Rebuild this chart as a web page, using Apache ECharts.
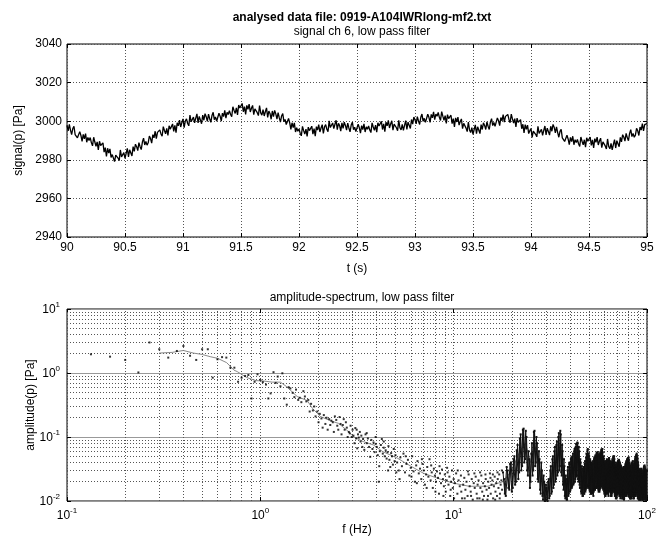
<!DOCTYPE html>
<html><head><meta charset="utf-8">
<script src="https://cdn.jsdelivr.net/npm/echarts@6/dist/echarts.min.js"></script>
<style>html,body{margin:0;padding:0;background:#fff}#c{width:665px;height:539px}</style>
</head><body><div id="c"></div><script>
// ---------- data ----------
const mainTitle = 'analysed data file: 0919-A104IWRlong-mf2.txt';
const topSubtitle = 'signal ch 6, low pass filter';
const bottomSubtitle = 'amplitude-spectrum, low pass filter';

// time signal, sampled from t0 every dt seconds
const t0 = 90, dt = 0.01;
const signal = [
2997.8,2995.0,2998.3,2995.4,2993.1,2996.2,2997.4,2993.1,2994.1,2991.4,
2991.8,2994.6,2992.6,2989.5,2993.2,2990.9,2993.6,2989.1,2991.6,2990.0,
2991.5,2988.9,2987.2,2991.7,2989.2,2987.0,2989.3,2985.1,2989.6,2987.4,
2986.5,2988.8,2984.0,2986.3,2981.7,2986.0,2983.5,2985.7,2981.2,2982.7,
2983.7,2979.1,2982.4,2983.4,2980.9,2979.6,2985.1,2981.5,2980.6,2983.7,
2980.7,2983.4,2985.9,2981.5,2985.2,2984.5,2982.0,2986.8,2984.4,2988.1,
2986.8,2984.8,2988.9,2986.8,2985.3,2989.2,2991.2,2987.7,2989.5,2987.6,
2988.8,2992.3,2991.0,2988.6,2993.0,2991.4,2994.8,2991.0,2994.2,2993.3,
2995.5,2993.4,2992.2,2997.2,2995.2,2993.5,2996.3,2992.6,2997.6,2995.9,
2995.5,2998.6,2994.7,2997.8,2994.1,2999.2,2997.6,3000.6,2997.0,2999.3,
3001.2,2996.7,3000.1,3001.2,2998.8,2997.6,3003.2,2999.7,2998.9,3002.1,
2999.2,3001.6,3003.8,2999.1,3002.5,3001.5,2998.7,3003.2,3000.5,3003.9,
3002.3,2999.9,3003.7,3001.3,2999.4,3003.0,3004.6,3000.8,3002.2,3000.0,
3000.8,3004.1,3002.6,3000.0,3004.2,3002.4,3005.6,3001.6,3004.6,3003.5,
3005.5,3003.5,3002.4,3007.5,3005.6,3004.0,3006.9,3003.3,3008.4,3006.8,
3006.5,3009.2,3004.9,3007.6,3003.5,3008.2,3006.2,3008.8,3004.8,3006.7,
3008.2,3003.4,3006.4,3007.2,3004.4,3002.9,3008.1,3004.3,3003.1,3006.0,
3002.7,3004.9,3006.9,3002.0,3005.2,3004.0,3001.0,3005.3,3002.4,3005.6,
3003.8,3001.1,3004.5,3001.7,2999.5,3002.7,3004.0,2999.8,3000.9,2998.3,
2998.8,3001.4,2999.1,2995.8,2999.2,2996.7,2999.1,2994.4,2996.6,2994.8,
2996.0,2993.8,2992.4,2997.3,2995.1,2993.3,2995.9,2992.1,2996.9,2995.1,
2994.5,2997.4,2993.3,2996.2,2992.3,2997.2,2995.4,2998.2,2994.4,2996.5,
2998.2,2993.7,2997.1,2998.2,2995.8,2994.6,3000.2,2996.7,2995.9,2999.1,
2996.2,2998.4,3000.5,2995.6,2998.9,2997.7,2994.8,2999.1,2996.3,2999.5,
2997.8,2995.4,2999.0,2996.5,2994.5,2998.0,2999.5,2995.6,2996.9,2994.6,
2995.3,2998.4,2996.6,2993.8,2997.7,2995.7,2998.6,2994.4,2997.1,2995.8,
2997.5,2995.4,2994.1,2999.1,2997.0,2995.3,2998.0,2994.3,2999.2,2997.5,
2997.0,2999.9,2995.7,2998.6,2994.6,2999.5,2997.6,3000.4,2996.5,2998.6,
3000.2,2995.4,2998.5,2999.3,2996.6,2995.1,3000.4,2996.6,2995.5,2998.4,
2995.2,2997.8,3000.3,2995.8,2999.5,2998.7,2996.2,3000.9,2998.5,3002.1,
3000.8,2998.6,3002.4,3000.1,2998.3,3002.0,3003.7,2999.9,3001.5,2999.4,
3000.3,3003.6,3002.0,2999.4,3003.5,3001.7,3004.8,3000.8,3003.7,3002.6,
3004.5,3002.0,3000.4,3005.0,3002.6,3000.5,3002.9,2998.8,3003.4,3001.3,
3000.5,3003.1,2998.7,3001.3,2997.1,3001.7,2999.6,3002.1,2998.0,2999.8,
3001.2,2996.1,2998.9,2999.4,2996.4,2994.6,2999.6,2995.5,2994.1,2996.7,
2993.2,2995.7,2998.1,2993.5,2997.1,2996.2,2993.6,2998.2,2995.7,2999.2,
2997.8,2995.7,2999.6,2997.4,2995.7,2999.5,3001.3,2997.7,2999.3,2997.3,
2998.3,3001.7,3000.2,2997.7,3001.9,3000.2,3003.4,2999.5,3002.5,3001.5,
3003.5,3000.9,2999.2,3003.7,3001.2,2999.0,3001.3,2997.1,3001.6,2999.4,
2998.5,3000.8,2996.1,2998.4,2993.9,2998.2,2995.8,2998.0,2993.6,2995.1,
2996.2,2991.6,2994.8,2995.8,2993.2,2991.9,2997.3,2993.7,2992.7,2995.8,
2992.7,2995.2,2997.5,2992.9,2996.4,2995.5,2992.8,2997.4,2994.8,2998.3,
2996.8,2993.9,2997.1,2994.1,2991.7,2994.7,2995.8,2991.4,2992.3,2989.5,
2989.8,2992.7,2990.8,2987.8,2991.6,2989.4,2992.2,2987.8,2990.4,2988.9,
2990.5,2988.3,2986.9,2991.8,2989.6,2987.8,2990.4,2986.6,2991.4,2989.6,
2989.0,2991.8,2987.5,2990.3,2986.2,2991.0,2989.0,2991.7,2987.7,2989.7,
2991.2,2986.3,2989.3,2990.0,2987.2,2985.6,2990.8,2986.9,2985.7,2988.5,
2985.2,2987.9,2990.5,2986.1,2989.9,2989.2,2986.8,2991.6,2989.3,2993.0,
2991.8,2989.7,2993.7,2991.5,2989.9,2993.7,2995.6,2992.0,2993.7,2991.7,
2992.8,2996.3,2995.0,2992.6,2997.0,2995.4,2998.8,2995.0,2998.2,2997.3,
2998.8
];

// spectrum: individually visible points [f (Hz), amplitude (Pa)]
const spectrumLowPoints = [
[0.133,1.96],[0.167,1.80],[0.2,1.60],[0.234,1.02],[0.267,3.0],[0.3,2.35],[0.334,1.74],[0.37,2.21],
[0.4,2.64],[0.433,1.86],[0.466,1.60],[0.5,2.35],[0.535,2.35],[0.567,0.845],[0.6,1.64],[0.634,1.77],
[0.667,1.74],[0.7,1.21],[0.734,1.21],[0.767,0.73],[0.8,0.845],[0.834,0.9],[0.867,0.93],[0.9,0.40],
[0.934,0.73],[0.967,0.955],[1.0,0.78],[1.03,0.72],[1.07,0.66],[1.1,0.40],[1.13,0.48],[1.17,1.03],
[1.2,0.7],[1.23,0.88],[1.27,0.62],[1.3,0.99],[1.33,0.40],[1.37,0.32],[1.4,0.6],[1.43,0.575],
[1.47,0.49],[1.5,0.42],[1.53,0.55],[1.57,0.38],[1.6,0.41],[1.63,0.35],[1.67,0.52],[1.7,0.43],
[1.73,0.36],[1.77,0.38],[1.8,0.25],[1.83,0.33],[1.87,0.26],[1.9,0.3],[1.93,0.21],[1.97,0.25],
[2.0,0.17],[2.03,0.23],[2.07,0.195],[2.1,0.14],[2.13,0.22],[2.17,0.16],[2.2,0.2],[2.23,0.13],
[2.27,0.19],[2.3,0.154],[2.33,0.18],[2.37,0.17],[2.4,0.12],[2.43,0.21],[2.47,0.185],[2.5,0.15],
[2.53,0.13],[2.57,0.205],[2.6,0.16],[2.63,0.11],[2.67,0.154],[2.7,0.19],[2.73,0.13],[2.77,0.17],
[2.8,0.14],[2.83,0.1],[2.87,0.12],[2.9,0.114],[2.93,0.15],[2.97,0.1],[3.0,0.13]
];
const spectrumMidPoints = [
[3.03,0.105],[3.07,0.08],[3.1,0.138],[3.13,0.095],[3.17,0.0665],[3.2,0.11],[3.23,0.098],[3.27,0.12],
[3.3,0.085],[3.33,0.105],[3.37,0.07],[3.4,0.093],[3.45,0.063],[3.5,0.11],[3.55,0.08],[3.6,0.095],
[3.65,0.07],[3.7,0.049],[3.75,0.09],[3.8,0.065],[3.85,0.082],[3.9,0.058],[3.95,0.078],[4.0,0.07],
[4.05,0.052],[4.1,0.02],[4.15,0.06],[4.2,0.075],[4.25,0.093],[4.3,0.055],[4.35,0.068],[4.4,0.05],
[4.45,0.062],[4.5,0.046],[4.55,0.058],[4.6,0.072],[4.65,0.044],[4.7,0.034],[4.75,0.056],[4.8,0.05],
[4.85,0.037],[4.9,0.065],[4.95,0.042],[5.0,0.052],
[5.1,0.04],[5.2,0.03],[5.3,0.048],[5.4,0.035],[5.5,0.055],[5.6,0.028],[5.7,0.038],[5.8,0.044],
[5.9,0.025],[6.0,0.033],[6.1,0.05],[6.2,0.029],[6.3,0.02],[6.4,0.036],[6.5,0.042],[6.6,0.027],
[6.7,0.032],[6.8,0.022],[6.9,0.038],[7.0,0.03],[7.1,0.018],[7.2,0.026],[7.3,0.034],[7.4,0.024],
[7.5,0.045],[7.6,0.021],[7.7,0.028],[7.8,0.016],[7.9,0.032],[8.0,0.025],[8.1,0.02],[8.2,0.029],
[8.3,0.023],[8.4,0.013],[8.5,0.027],[8.6,0.019],[8.7,0.031],[8.8,0.022],[8.9,0.017],[9.0,0.026],
[9.1,0.014],[9.2,0.021],[9.3,0.028],[9.4,0.018],[9.5,0.024],[9.6,0.012],[9.7,0.02],[9.8,0.03],
[9.9,0.016],[10.0,0.022],[10.15,0.019],[10.3,0.027],[10.45,0.013],[10.6,0.021],[10.75,0.017],[10.9,0.025],
[11.05,0.011],[11.2,0.018],[11.35,0.023],[11.5,0.015],[11.65,0.02],[11.8,0.012],[11.95,0.026],[12.1,0.017],
[12.25,0.014],[12.4,0.022],[12.55,0.0105],[12.7,0.019],[12.85,0.016],[13.0,0.024],[13.15,0.013],[13.3,0.018],
[13.45,0.021],[13.6,0.011],[13.75,0.016],[13.9,0.025],[14.05,0.014],[14.2,0.019],[14.35,0.012],[14.5,0.017],
[14.65,0.022],[14.8,0.015],[14.95,0.0105],[15.1,0.02],[15.25,0.016],[15.4,0.027],[15.55,0.013],[15.7,0.018],
[15.85,0.021],[16.0,0.011],[16.15,0.017],[16.3,0.024],[16.45,0.014],[16.6,0.019],[16.75,0.012],[16.9,0.022],
[17.05,0.016],[17.2,0.026],[17.35,0.013],[17.5,0.018],[17.65,0.021],[17.8,0.015],
[5.25,0.022],[5.65,0.05],[6.05,0.024],[6.45,0.019],[6.85,0.045],[7.25,0.016],[7.65,0.036],[8.05,0.014],
[8.45,0.035],[8.85,0.012],[9.25,0.033],[9.65,0.015],[10.05,0.011],[10.5,0.03],[10.95,0.014],[11.4,0.011],
[11.85,0.029],[12.3,0.012],[12.8,0.027],[13.25,0.011],[13.7,0.028],[14.15,0.0105],[14.6,0.026],[15.05,0.012],
[15.5,0.023],[15.95,0.026],[16.4,0.0105],[16.85,0.028],[17.3,0.011],[17.75,0.03],[3.15,0.13],[3.55,0.115],
[3.95,0.1],[4.35,0.085],[4.12,0.035],[4.58,0.03],[5.05,0.028]
];
// dense high-frequency part of the spectrum: two interleaved sample grids (Hz start, Hz step)
const hfStart = 18, hfStep = 0.4;
const hfAmp = [
0.028,0.013,0.034,0.016,0.038,0.014,0.045,0.018,0.062,0.022,
0.095,0.03,0.13,0.04,0.125,0.03,0.06,0.016,0.055,0.025,
0.12,0.035,0.1,0.022,0.06,0.015,0.04,0.012,0.025,0.01,
0.018,0.0105,0.02,0.011,0.03,0.013,0.045,0.016,0.06,0.02,
0.075,0.025,0.1,0.03,0.125,0.028,0.075,0.018,0.045,0.012,
0.025,0.0105,0.03,0.012,0.038,0.014,0.045,0.016,0.05,0.018,
0.06,0.02,0.07,0.024,0.082,0.022,0.07,0.018,0.045,0.014,
0.035,0.012,0.03,0.013,0.038,0.014,0.048,0.016,0.062,0.018,
0.055,0.015,0.045,0.013,0.04,0.014,0.038,0.012,0.045,0.015,
0.05,0.016,0.055,0.017,0.058,0.015,0.05,0.014,0.055,0.016,
0.062,0.018,0.065,0.016,0.05,0.014,0.042,0.012,0.038,0.013,
0.045,0.014,0.04,0.012,0.047,0.015,0.042,0.013,0.036,0.012,
0.042,0.014,0.048,0.015,0.05,0.013,0.04,0.012,0.035,0.011,
0.038,0.013,0.042,0.014,0.044,0.012,0.04,0.011,0.036,0.013,
0.033,0.011,0.03,0.012,0.034,0.0105,0.032,0.012,0.036,0.013,
0.04,0.012,0.044,0.014,0.046,0.013,0.048,0.012,0.04,0.011,
0.036,0.012,0.032,0.011,0.038,0.013,0.042,0.012,0.035,0.011,
0.04,0.013,0.045,0.012,0.05,0.014,0.055,0.013,0.048,0.011,
0.04,0.012,0.032,0.0105,0.03,0.011,0.028,0.0105,0.032,0.012,
0.03,0.011,0.026,0.0105,0.03,0.011,0.034,0.012,0.036,0.011,
0.032,0.0105,0.028,0.011,0.03,0.012
];
const hfStart2 = 18.2, hfStep2 = 0.4;
const hfAmp2 = [
0.022,0.012,0.03,0.015,0.04,0.016,0.05,0.02,0.075,0.028,
0.11,0.035,0.135,0.045,0.1,0.025,0.045,0.02,0.08,0.03,
0.125,0.04,0.08,0.02,0.045,0.013,0.03,0.0105,0.02,0.01,
0.016,0.01,0.022,0.012,0.035,0.014,0.05,0.018,0.07,0.022,
0.085,0.028,0.115,0.035,0.11,0.025,0.06,0.015,0.035,0.011,
0.022,0.0105,0.034,0.013,0.04,0.015,0.048,0.017,0.055,0.019,
0.065,0.022,0.078,0.025,0.08,0.02,0.06,0.016,0.04,0.013,
0.032,0.012,0.034,0.013,0.042,0.015,0.055,0.017,0.065,0.016,
0.05,0.014,0.042,0.013,0.038,0.013,0.042,0.014,0.048,0.015,
0.052,0.016,0.057,0.016,0.054,0.014,0.052,0.015,0.058,0.017,
0.064,0.017,0.058,0.015,0.046,0.013,0.04,0.012,0.042,0.013,
0.043,0.013,0.044,0.014,0.045,0.014,0.038,0.012,0.04,0.013,
0.045,0.014,0.05,0.014,0.045,0.012,0.037,0.011,0.036,0.012,
0.04,0.013,0.043,0.013,0.042,0.012,0.038,0.012,0.035,0.012,
0.031,0.011,0.032,0.011,0.033,0.011,0.034,0.012,0.038,0.013,
0.042,0.013,0.045,0.013,0.047,0.012,0.044,0.012,0.038,0.011,
0.034,0.011,0.035,0.012,0.04,0.012,0.038,0.011,0.037,0.012,
0.042,0.012,0.048,0.013,0.052,0.013,0.052,0.012,0.044,0.011,
0.036,0.011,0.031,0.0105,0.029,0.0105,0.03,0.011,0.031,0.011,
0.028,0.0105,0.028,0.0105,0.032,0.011,0.035,0.011,0.034,0.0105,
0.03,0.0105,0.029,0.011,0.03
];
// smoothed spectrum (grey line)
const smoothFreq = [0.3,0.35,0.4,0.45,0.5,0.55,0.6,0.67,0.73,0.76,0.85,0.95,1.04,1.15,1.27,1.37,1.49,1.55,1.75,1.86,1.97,2.04,2.3,2.54,2.8,3.05,3.4,3.85,4.3,5.1,6,7,8.5,10,12,15,18,20,22,23.5,25,26.5,28,30,33,35.5,38,41,44,47,50,55,59,65,70,80,90,100];
const smoothAmp = [2.05,2.1,2.25,2.05,1.95,1.8,1.7,1.45,1.11,1.05,0.85,0.76,0.75,0.72,0.72,0.61,0.48,0.43,0.37,0.28,0.235,0.21,0.18,0.163,0.128,0.1,0.085,0.075,0.059,0.047,0.035,0.027,0.022,0.019,0.017,0.017,0.02,0.03,0.06,0.08,0.04,0.07,0.03,0.015,0.035,0.06,0.018,0.03,0.045,0.02,0.035,0.028,0.03,0.024,0.021,0.023,0.021,0.019];

const minorFreqLines = [0.2,0.3,0.4,0.5,0.6,0.7,0.8,0.9,2,3,4,5,6,7,8,9,20,30,40,50,60,70,80,90];
const minorAmpLines = [0.02,0.03,0.04,0.05,0.06,0.07,0.08,0.09,0.2,0.3,0.4,0.5,0.6,0.7,0.8,0.9,2,3,4,5,6,7,8,9];

// ---------- chart ----------
const font = '"Liberation Sans", Arial, Helvetica, sans-serif';
const chart = echarts.init(document.getElementById('c'), null, {renderer: 'canvas'});

const signalData = signal.map((v, i) => [t0 + i * dt, v]);
const hfData = hfAmp.map((v, i) => [hfStart + i * hfStep, v]);
const hfData2 = hfAmp2.map((v, i) => [hfStart2 + i * hfStep2, v]);
const smoothData = smoothFreq.map((f, i) => [f, smoothAmp[i]]);
const scatterData = spectrumLowPoints.concat(spectrumMidPoints);

const dotted = {color: '#555', type: [1, 2], width: 1};
const lblStyle = {color: '#000', fontFamily: font, fontSize: 12};
const supRich = {
  b: {fontSize: 12, fontFamily: font, color: '#000', verticalAlign: 'bottom', lineHeight: 14},
  s: {fontSize: 8, fontFamily: font, color: '#000', verticalAlign: 'bottom', lineHeight: 14, padding: [0, 0, 7, 0]}
};
const supFmt = v => '{b|10}{s|' + Math.round(Math.log10(v)) + '}';
const tickIn = {show: true, inside: true, length: 4, lineStyle: {color: '#000'}};
const hfStyle = {type: 'line', xAxisIndex: 2, yAxisIndex: 2, showSymbol: true, symbol: 'rect', symbolSize: 2,
  itemStyle: {color: '#111'}, clip: true, lineStyle: {color: '#111', width: 1}, silent: true, z: 7};

const option = {
  backgroundColor: '#fff',
  animation: false,
  title: [
    {text: mainTitle, left: 357, top: 7, textAlign: 'center',
     textStyle: {fontFamily: font, fontSize: 12, fontWeight: 'bold', color: '#000'}},
    {text: topSubtitle, left: 357, top: 21, textAlign: 'center',
     textStyle: {fontFamily: font, fontSize: 12, fontWeight: 'normal', color: '#000'}},
    {text: bottomSubtitle, left: 357, top: 287, textAlign: 'center',
     textStyle: {fontFamily: font, fontSize: 12, fontWeight: 'normal', color: '#000'}}
  ],
  grid: [
    {left: 67, right: 18, top: 44, height: 193, show: true, borderColor: '#000', borderWidth: 1, backgroundColor: '#fff'},
    {left: 67, right: 18, top: 309, height: 192, show: true, borderColor: '#000', borderWidth: 1, backgroundColor: '#fff'}
  ],
  xAxis: [
    {gridIndex: 0, type: 'value', min: 90, max: 95, interval: 0.5,
     axisLine: {show: false}, axisTick: tickIn,
     axisLabel: Object.assign({margin: 5, formatter: v => String(+v.toFixed(1))}, lblStyle),
     splitLine: {show: true, lineStyle: dotted},
     name: 't (s)', nameLocation: 'middle', nameGap: 26, nameMoveOverlap: false, nameTextStyle: lblStyle},
    {gridIndex: 0, type: 'value', min: 90, max: 95, interval: 0.5, position: 'top',
     axisLine: {show: false}, axisTick: tickIn, axisLabel: {show: false}, splitLine: {show: false}},
    {gridIndex: 1, type: 'log', logBase: 10, min: 0.1, max: 100, splitNumber: 3,
     axisLine: {show: false}, axisTick: tickIn,
     axisLabel: {margin: 7, formatter: supFmt, rich: supRich},
     splitLine: {show: true, lineStyle: dotted},
     name: 'f (Hz)', nameLocation: 'middle', nameGap: 23, nameMoveOverlap: false, nameTextStyle: lblStyle},
    {gridIndex: 1, type: 'log', logBase: 10, min: 0.1, max: 100, splitNumber: 3, position: 'top',
     axisLine: {show: false}, axisTick: tickIn, axisLabel: {show: false}, splitLine: {show: false}}
  ],
  yAxis: [
    {gridIndex: 0, type: 'value', min: 2940, max: 3040, interval: 20,
     axisLine: {show: false}, axisTick: tickIn,
     axisLabel: Object.assign({margin: 5, formatter: v => String(v)}, lblStyle),
     splitLine: {show: true, lineStyle: dotted},
     name: 'signal(p) [Pa]', nameLocation: 'middle', nameGap: 42, nameMoveOverlap: false, nameTextStyle: lblStyle},
    {gridIndex: 0, type: 'value', min: 2940, max: 3040, interval: 20, position: 'right',
     axisLine: {show: false}, axisTick: tickIn, axisLabel: {show: false}, splitLine: {show: false}},
    {gridIndex: 1, type: 'log', logBase: 10, min: 0.01, max: 10, splitNumber: 3,
     axisLine: {show: false}, axisTick: tickIn,
     axisLabel: {margin: 7, formatter: supFmt, rich: supRich},
     splitLine: {show: true, lineStyle: {color: '#999', width: 1, type: 'solid'}},
     name: 'amplitude(p) [Pa]', nameLocation: 'middle', nameGap: 30, nameMoveOverlap: false, nameTextStyle: lblStyle},
    {gridIndex: 1, type: 'log', logBase: 10, min: 0.01, max: 10, splitNumber: 3, position: 'right',
     axisLine: {show: false}, axisTick: tickIn, axisLabel: {show: false}, splitLine: {show: false}}
  ],
  series: [
    {type: 'line', xAxisIndex: 0, yAxisIndex: 0, data: signalData, showSymbol: false,
     lineStyle: {color: '#000', width: 1.3}, silent: true, z: 5},
    {type: 'line', xAxisIndex: 2, yAxisIndex: 2, data: [], silent: true, z: 1,
     markLine: {silent: true, symbol: 'none', label: {show: false}, animation: false,
       lineStyle: dotted,
       data: minorFreqLines.map(f => ({xAxis: f})).concat(minorAmpLines.map(a => ({yAxis: a})))}},
    {type: 'line', xAxisIndex: 2, yAxisIndex: 2, data: smoothData, showSymbol: false, smooth: false, clip: true,
     lineStyle: {color: '#8a8a8a', width: 1}, silent: true, z: 6},
    Object.assign({data: hfData}, hfStyle),
    Object.assign({data: hfData2}, hfStyle),
    {type: 'scatter', xAxisIndex: 2, yAxisIndex: 2, data: scatterData, symbol: 'rect', symbolSize: 2,
     itemStyle: {color: '#000'}, silent: true, z: 8, clip: true}
  ]
};
chart.setOption(option);
</script></body></html>
